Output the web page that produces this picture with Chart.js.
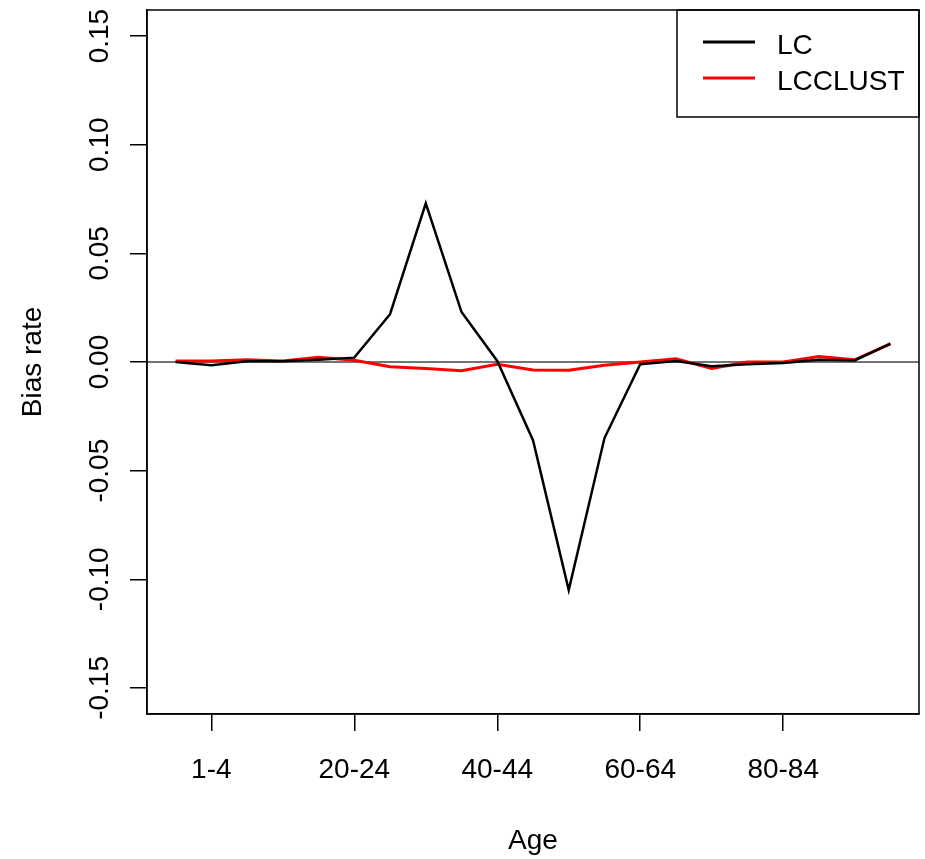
<!DOCTYPE html>
<html>
<head>
<meta charset="utf-8">
<script src="https://cdn.jsdelivr.net/npm/chart.js@4.4.1/dist/chart.umd.min.js"></script>
<style>
  body { margin: 0; background: #fff; }
  canvas { display: block; }
</style>
</head>
<body>
<canvas id="biasChart" width="925" height="859"></canvas>
<script>
// age groups on the x axis
var ageGroups = ['0', '1-4', '5-9', '10-14', '15-19', '20-24', '25-29', '30-34', '35-39',
    '40-44', '45-49', '50-54', '55-59', '60-64', '65-69', '70-74', '75-79', '80-84',
    '85-89', '90-94', '95+'];
// only these groups get a tick label
var shownAges = ['1-4', '20-24', '40-44', '60-64', '80-84'];
var yTicks = [-0.15, -0.10, -0.05, 0.00, 0.05, 0.10, 0.15];

var lcBias = [0.0, -0.0015, 0.0003, 0.0003, 0.001, 0.002, 0.022, 0.073, 0.023, 0.0005,
    -0.036, -0.105, -0.035, -0.001, 0.0005, -0.002, -0.001, -0.0005, 0.001, 0.0007, 0.0085];
var lcclustBias = [0.0005, 0.0005, 0.001, 0.0005, 0.0022, 0.0008, -0.0022, -0.003, -0.004, -0.001,
    -0.0037, -0.0038, -0.0015, 0.0, 0.0015, -0.003, 0.0, 0.0, 0.0025, 0.001, 0.0083];

var FONT = '"Liberation Sans", Arial, sans-serif';

function toPoints(values) {
    return values.map(function (v, i) { return {x: i, y: v}; });
}

// white background, zero line, frame, rotated y labels and the boxed legend
var rPlotLook = {
    id: 'rPlotLook',
    beforeDraw: function (chart) {
        var ctx = chart.ctx;
        ctx.save();
        ctx.fillStyle = '#fff';
        ctx.fillRect(0, 0, chart.width, chart.height);
        ctx.restore();
    },
    beforeDatasetsDraw: function (chart) {
        var ctx = chart.ctx, a = chart.chartArea;
        var y0 = chart.scales.y.getPixelForValue(0);
        ctx.save();
        ctx.strokeStyle = '#444';
        ctx.lineWidth = 1.5;
        ctx.beginPath();
        ctx.moveTo(a.left, y0);
        ctx.lineTo(a.right, y0);
        ctx.stroke();
        ctx.restore();
    },
    afterDraw: function (chart) {
        var ctx = chart.ctx, a = chart.chartArea, ys = chart.scales.y;
        ctx.save();
        ctx.strokeStyle = '#000';
        ctx.lineWidth = 1.5;
        ctx.strokeRect(a.left, a.top, a.right - a.left, a.bottom - a.top);

        // y tick labels, parallel to the axis
        ctx.fillStyle = '#000';
        ctx.font = '28px ' + FONT;
        ctx.textAlign = 'center';
        ctx.textBaseline = 'middle';
        yTicks.forEach(function (t) {
            ctx.save();
            ctx.translate(a.left - 47, ys.getPixelForValue(t));
            ctx.rotate(-Math.PI / 2);
            ctx.fillText(t.toFixed(2), 0, 0);
            ctx.restore();
        });

        // legend
        var boxW = 242, boxH = 107;
        var bx = a.right - boxW, by = a.top;
        ctx.strokeRect(bx, by, boxW, boxH);
        ctx.textAlign = 'left';
        chart.data.datasets.forEach(function (ds, i) {
            var ly = by + 34 + i * 36;
            ctx.strokeStyle = ds.borderColor;
            ctx.lineWidth = 3;
            ctx.beginPath();
            ctx.moveTo(bx + 26, ly - 2);
            ctx.lineTo(bx + 78, ly - 2);
            ctx.stroke();
            ctx.fillStyle = '#000';
            ctx.fillText(ds.label, bx + 100, ly + 2);
        });
        ctx.restore();
    }
};

var biasCanvas = document.getElementById('biasChart');
var biasChart = new Chart(biasCanvas, {
    type: 'line',
    data: {
        datasets: [
            {
                label: 'LC',
                data: toPoints(lcBias),
                borderColor: '#000000',
                borderWidth: 2.5,
                pointRadius: 0,
                tension: 0
            },
            {
                label: 'LCCLUST',
                data: toPoints(lcclustBias),
                borderColor: '#ff0000',
                borderWidth: 3,
                pointRadius: 0,
                tension: 0
            }
        ]
    },
    options: {
        responsive: false,
        animation: false,
        layout: { padding: { top: 10, right: 6, left: 0, bottom: 0 } },
        plugins: {
            legend: { display: false },
            tooltip: { enabled: false }
        },
        scales: {
            x: {
                type: 'linear',
                min: -0.8,
                max: 20.8,
                afterBuildTicks: function (scale) {
                    scale.ticks = shownAges.map(function (a) { return {value: ageGroups.indexOf(a)}; });
                },
                afterFit: function (scale) { scale.height = 145; },
                ticks: {
                    autoSkip: false,
                    maxRotation: 0,
                    padding: 22,
                    color: '#000',
                    font: { family: FONT, size: 28 },
                    callback: function (v) { return ageGroups[v]; }
                },
                grid: { drawOnChartArea: false, drawTicks: true, tickLength: 17, color: '#000', lineWidth: 1.5 },
                border: { display: true, color: '#000', width: 1.5 },
                title: {
                    display: true,
                    text: 'Age',
                    color: '#000',
                    font: { family: FONT, size: 28 },
                    padding: { top: 0, bottom: 1 }
                }
            },
            y: {
                min: -0.162,
                max: 0.162,
                afterBuildTicks: function (scale) {
                    scale.ticks = yTicks.map(function (t) { return {value: t}; });
                },
                afterFit: function (scale) { scale.width = 147; },
                ticks: {
                    // real labels are drawn rotated by the plugin
                    color: 'rgba(0,0,0,0)',
                    font: { family: FONT, size: 1 }
                },
                grid: { drawOnChartArea: false, drawTicks: true, tickLength: 17, color: '#000', lineWidth: 1.5 },
                border: { display: true, color: '#000', width: 1.5 },
                title: {
                    display: true,
                    text: 'Bias rate',
                    color: '#000',
                    font: { family: FONT, size: 28 },
                    padding: { top: 16, bottom: 0 }
                }
            }
        }
    },
    plugins: [rPlotLook]
});
</script>
</body>
</html>
